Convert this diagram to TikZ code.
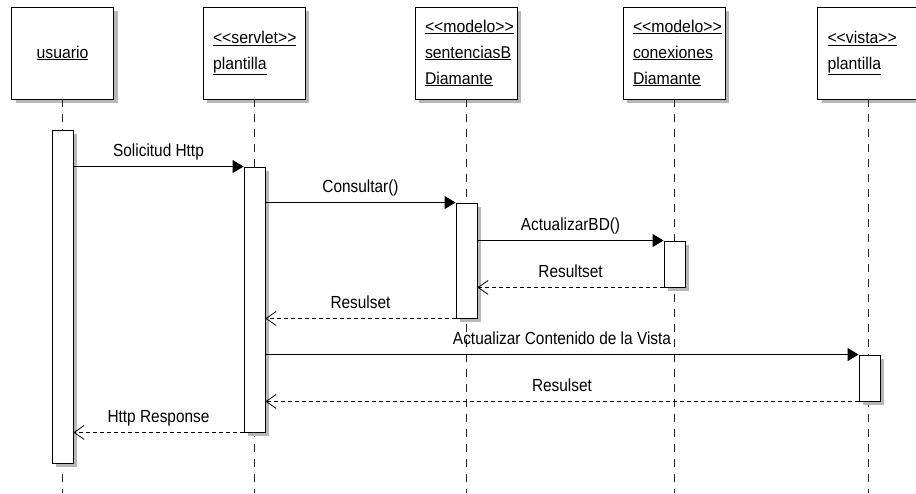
\documentclass[tikz,border=0pt]{standalone}
\usepackage{fontspec}
\usepackage{graphicx}
\newfontfamily\arial{Liberation Sans}
\usetikzlibrary{arrows.meta,shadows}
\newcommand\bx[1]{\scalebox{0.93}[1]{\underline{#1}}}
\newcommand\mx[1]{\scalebox{0.88}[1]{#1}}
\tikzset{
  shadowed/.style={general shadow={shadow xshift=4pt, shadow yshift=-4pt, fill=black!28}},
  objbox/.style={draw=black, line width=0.9pt, fill=white, minimum width=102pt, minimum height=92pt,
    inner xsep=10pt, inner ysep=0pt, text width=82pt, align=left,
    font=\arial\fontsize{17}{26}\selectfont, shadowed},
  lifeline/.style={draw=black!85, line width=0.9pt, dash pattern=on 8pt off 7pt},
  actbar/.style={draw=black, line width=0.9pt, fill=white, minimum width=21pt, inner sep=0pt, shadowed},
  call/.style={draw=black, line width=0.9pt, -{Triangle[length=11pt,width=13pt]}},
  ret/.style={draw=black, line width=0.8pt, dash pattern=on 4pt off 3pt, -{Straight Barb[length=10pt,width=14pt,line width=0.8pt]}},
  lbl/.style={midway, anchor=base, yshift=10pt, inner sep=0pt, font=\arial\fontsize{17.5}{20}\selectfont}
}
\begin{document}
\begin{tikzpicture}[x=1pt,y=-1pt]
\useasboundingbox (0,0) rectangle (916,493);
% objects
\node[objbox, align=center] (u) at (62.5,53) {\bx{usuario}};
\node[objbox] (s) at (254,53) {\bx{<<servlet>>}\\\bx{plantilla}};
\node[objbox] (m1) at (466,53) {\bx{<<modelo>>}\\\bx{sentenciasB}\\\bx{Diamante}};
\node[objbox] (m2) at (674,53) {\bx{<<modelo>>}\\\bx{conexiones}\\\bx{Diamante}};
\node[objbox] (v) at (868.5,53) {\bx{<<vista>>}\\\bx{plantilla}};
% lifelines
\foreach \n in {u,s,m1,m2,v} \draw[lifeline] (\n.south) -- (\n.south |- 0,493);
% activation bars
\node[actbar, minimum height=333pt] (ua) at (62.5,296.5) {};
\node[actbar, minimum height=265pt] (sa) at (254.5,299.5) {};
\node[actbar, minimum height=115pt] (m1a) at (466.5,260.5) {};
\node[actbar, minimum height=46pt] (m2a) at (674.5,264) {};
\node[actbar, minimum height=46pt] (va) at (869.5,378) {};
% messages
\draw[call] (ua.east |- sa.north) -- (sa.north west) node[lbl] {\mx{Solicitud Http}};
\draw[call] (sa.east |- m1a.north) -- (m1a.north west) node[lbl] {\mx{Consultar()}};
\draw[call] (m1a.east |- m2a.north) -- (m2a.north west) node[lbl] {\mx{ActualizarBD()}};
\draw[ret] (m2a.south west) -- (m1a.east |- m2a.south) node[lbl] {\mx{Resultset}};
\draw[ret] (m1a.south west) -- (sa.east |- m1a.south) node[lbl] {\mx{Resulset}};
\draw[call] (sa.east |- va.north) -- (va.north west) node[lbl] {\mx{Actualizar Contenido de la Vista}};
\draw[ret] (va.south west) -- (sa.east |- va.south) node[lbl] {\mx{Resulset}};
\draw[ret] (sa.south west) -- (ua.east |- sa.south) node[lbl] {\mx{Http Response}};
\end{tikzpicture}
\end{document}
